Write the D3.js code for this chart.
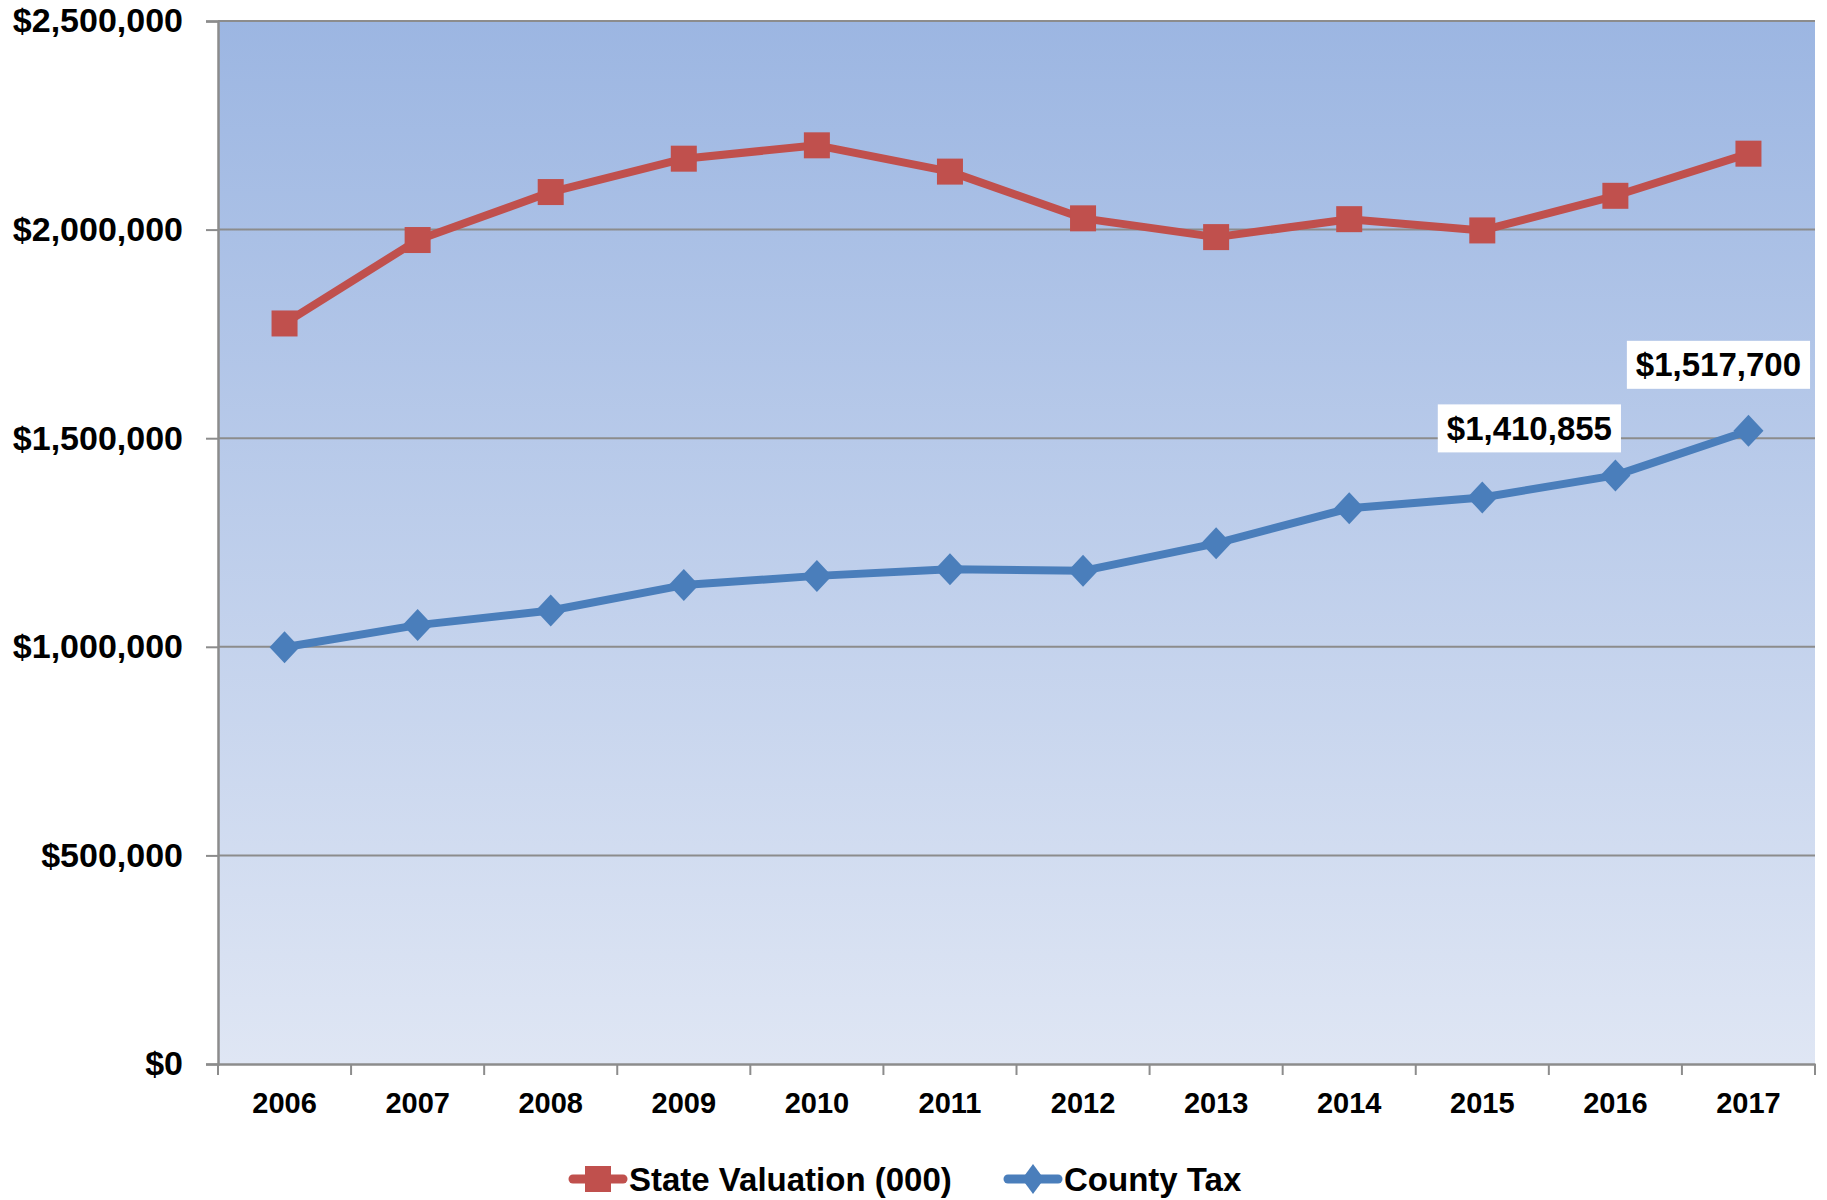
<!DOCTYPE html>
<html><head><meta charset="utf-8">
<script src="https://cdn.jsdelivr.net/npm/d3@7"></script>
<style>body{margin:0;background:#fff;}svg{display:block;}</style>
</head><body>
<svg id="chart" width="1827" height="1200"></svg>
<script>
const years = ["2006","2007","2008","2009","2010","2011","2012","2013","2014","2015","2016","2017"];
const stateValuation = [1775000,1975000,2090000,2170000,2202000,2139000,2027000,1982000,2025000,1998000,2081000,2182000];
const countyTax = [999000,1052000,1087000,1148000,1170000,1186000,1182000,1248000,1332000,1358000,1410855,1517700];
const yTicks = [0,500000,1000000,1500000,2000000,2500000];
const seriesNames = ["State Valuation (000)","County Tax"];
const labeledPoints = [{i:10, text:"$1,410,855"},{i:11, text:"$1,517,700"}];

const svg = d3.select("#chart");
const L=218, R=1815, T=21, B=1064;
const FONT = "'Liberation Sans', Arial, sans-serif";
const x = d3.scaleBand().domain(years).range([L,R]);
const y = d3.scaleLinear().domain([0,2500000]).range([B,T]);
const fmt = v => "$" + d3.format(",")(v);

const defs = svg.append("defs");
const grad = defs.append("linearGradient").attr("id","bg").attr("x1",0).attr("y1",0).attr("x2",0).attr("y2",1);
grad.append("stop").attr("offset","0%").attr("stop-color","#9cb6e2");
grad.append("stop").attr("offset","100%").attr("stop-color","#dfe6f4");

svg.append("rect").attr("x",L).attr("y",T).attr("width",R-L).attr("height",B-T).attr("fill","url(#bg)");

// gridlines
svg.append("g").selectAll("line").data(yTicks.filter(d=>d>0)).join("line")
  .attr("x1",L).attr("x2",R).attr("y1",d=>y(d)).attr("y2",d=>y(d))
  .attr("stroke","#8c8c8c").attr("stroke-width",2);

// y axis
const yAxis = svg.append("g").attr("transform",`translate(${L},0)`)
  .call(d3.axisLeft(y).tickValues(yTicks).tickFormat(fmt).tickSize(12).tickPadding(23));
yAxis.select(".domain").attr("stroke","#8c8c8c").attr("stroke-width",2.5);
yAxis.selectAll(".tick line").attr("stroke","#8c8c8c").attr("stroke-width",2);
yAxis.selectAll("text").attr("font-family",FONT).attr("font-weight","bold").attr("font-size",34).attr("fill","#000");

// x axis
const xAxis = svg.append("g").attr("transform",`translate(0,${B})`)
  .call(d3.axisBottom(x).tickSize(0).tickPadding(28));
xAxis.select(".domain").attr("stroke","#8c8c8c").attr("stroke-width",2.5);
xAxis.selectAll("text").attr("font-family",FONT).attr("font-weight","bold").attr("font-size",29).attr("fill","#000");
// x tick marks at band boundaries
const bounds = years.map(d=>x(d)).concat([R]);
svg.append("g").selectAll("line").data(bounds).join("line")
  .attr("x1",d=>d).attr("x2",d=>d).attr("y1",B).attr("y2",B+11)
  .attr("stroke","#8c8c8c").attr("stroke-width",2);

const cx = d => x(d) + x.bandwidth()/2;
const line = d3.line().x((d,i)=>cx(years[i])).y(d=>y(d));

const red = "#c0504d", blue = "#4a7ebb";
function diamond(w,h){return `M0,${-h/2}L${w/2},0L0,${h/2}L${-w/2},0Z`;}

// state valuation
svg.append("path").datum(stateValuation).attr("d",line).attr("fill","none")
  .attr("stroke",red).attr("stroke-width",8).attr("stroke-linejoin","round");
svg.append("g").selectAll("rect").data(stateValuation).join("rect")
  .attr("x",(d,i)=>cx(years[i])-13).attr("y",d=>y(d)-13).attr("width",26).attr("height",26)
  .attr("fill",red);

// county tax
svg.append("path").datum(countyTax).attr("d",line).attr("fill","none")
  .attr("stroke",blue).attr("stroke-width",8).attr("stroke-linejoin","round");
svg.append("g").selectAll("path").data(countyTax).join("path")
  .attr("d",diamond(30,32)).attr("transform",(d,i)=>`translate(${cx(years[i])},${y(d)})`)
  .attr("fill",blue);

// data labels
const lab = svg.append("g");
const offsets = [{dx:-86,dy:-47},{dx:-30,dy:-66}];
labeledPoints.forEach((p,k)=>{
  const px = cx(years[p.i])+offsets[k].dx, py = y(countyTax[p.i])+offsets[k].dy;
  const t = lab.append("text").attr("x",px).attr("y",py).attr("text-anchor","middle")
    .attr("dominant-baseline","central").attr("font-family",FONT).attr("font-weight","bold")
    .attr("font-size",33).attr("fill","#000").text(p.text);
  const bb = t.node().getBBox();
  lab.insert("rect","text").attr("x",bb.x-9).attr("y",py-24).attr("width",bb.width+18).attr("height",48).attr("fill","#fff");
});

// legend
const leg = svg.append("g");
const legY = 1179;
const legItems = [{name:seriesNames[0],color:red,x:569,shape:"square"},{name:seriesNames[1],color:blue,x:1004,shape:"diamond"}];
legItems.forEach(it=>{
  leg.append("line").attr("x1",it.x+4).attr("x2",it.x+54).attr("y1",legY).attr("y2",legY)
    .attr("stroke",it.color).attr("stroke-width",9).attr("stroke-linecap","round");
  if(it.shape==="square"){
    leg.append("rect").attr("x",it.x+29-13).attr("y",legY-13).attr("width",26).attr("height",26).attr("fill",it.color);
  } else {
    leg.append("path").attr("d",diamond(22,30)).attr("transform",`translate(${it.x+29},${legY})`).attr("fill",it.color);
  }
  leg.append("text").attr("x",it.x+60).attr("y",legY).attr("dominant-baseline","central")
    .attr("font-family",FONT).attr("font-weight","bold").attr("font-size",33).attr("fill","#000").text(it.name);
});
</script>
</body></html>
